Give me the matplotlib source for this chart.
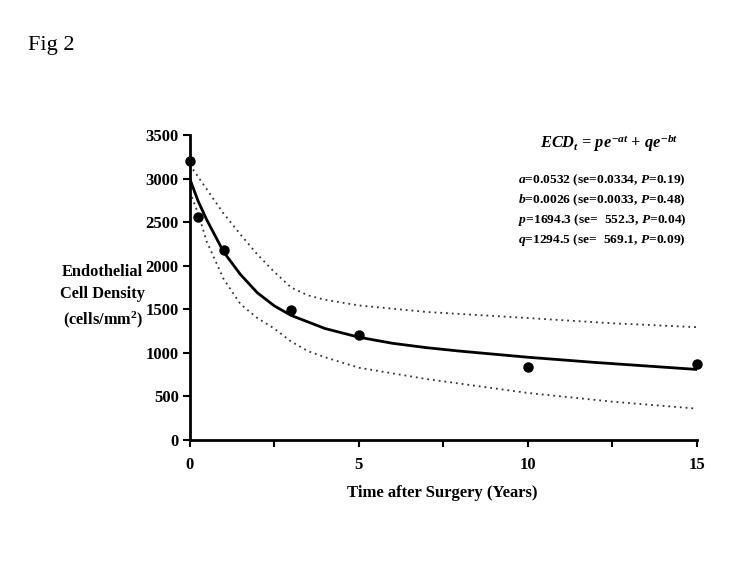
import matplotlib
matplotlib.use('Agg')
import matplotlib.pyplot as plt
from matplotlib.ticker import MultipleLocator

plt.rcParams['font.family'] = ['Liberation Serif', 'DejaVu Serif']
plt.rcParams['font.weight'] = 'bold'
plt.rcParams['mathtext.fontset'] = 'custom'
plt.rcParams['mathtext.rm'] = 'Liberation Serif:bold'
plt.rcParams['mathtext.it'] = 'Liberation Serif:bold:italic'

# observed means
obs_years = [0, 0.25, 1, 3, 5, 10, 15]
obs_ecd = [3200, 2560, 2180, 1490, 1200, 840, 875]

# fitted curve
fit_years = [0, 0.25, 0.5, 1, 1.5, 2, 2.5, 3, 4, 5, 6, 7, 8, 10, 12, 15]
fit_ecd = [3000, 2740, 2530, 2160, 1900, 1690, 1540, 1430, 1280, 1180,
           1110, 1060, 1020, 950, 890, 810]

# confidence bands
ci_years = [0, 0.25, 0.5, 1, 1.5, 2, 2.5, 3, 3.5, 4, 5, 7, 10, 12.5, 15]
ci_upper = [3160, 3020, 2880, 2600, 2360, 2130, 1930, 1750, 1660, 1610,
            1545, 1470, 1400, 1340, 1295]
ci_lower = [2850, 2600, 2280, 1850, 1560, 1400, 1280, 1130, 1020, 950,
            830, 700, 540, 440, 360]

fit_lines = ["$a$=0.0532 (se=0.0334, $P$=0.19)",
             "$b$=0.0026 (se=0.0033, $P$=0.48)",
             "$p$=1694.3 (se=  552.3, $P$=0.04)",
             "$q$=1294.5 (se=  569.1, $P$=0.09)"]

fig = plt.figure(figsize=(7.5, 5.63), dpi=100)
ax = fig.add_axes([0.253, 0.2185, 0.676, 0.5415])

ax.plot(ci_years, ci_upper, color='#333333', lw=1.3, linestyle=(0, (1, 2.2)))
ax.plot(ci_years, ci_lower, color='#333333', lw=1.3, linestyle=(0, (1, 2.2)))
ax.plot(fit_years, fit_ecd, color='black', lw=2)
ax.plot(obs_years, obs_ecd, 'o', color='black', markersize=6.5, clip_on=False)

ax.set_xlim(0, 15)
ax.set_ylim(0, 3500)
ax.xaxis.set_major_locator(MultipleLocator(5))
ax.xaxis.set_minor_locator(MultipleLocator(2.5))
ax.yaxis.set_major_locator(MultipleLocator(500))
for s in ['top', 'right']:
    ax.spines[s].set_visible(False)
for s in ['left', 'bottom']:
    ax.spines[s].set_linewidth(2)
ax.tick_params(which='both', direction='out', length=5, width=1.5, labelsize=12)
ax.tick_params(axis='x', pad=7)
ax.tick_params(axis='y', pad=3)

ax.text(0.828, 0.975, "$ECD_t$ = $pe^{-at}$ + $qe^{-bt}$", transform=ax.transAxes,
        ha='center', va='center', fontsize=11.8)
for i, line in enumerate(fit_lines):
    ax.text(0.647, 0.852 - i * 0.0655, line, transform=ax.transAxes,
            ha='left', va='center', fontsize=9.7)

fig.text(0.137, 0.472, "Endothelial\nCell Density\n(cells/mm$^\\mathrm{2}$)",
         ha='center', va='center', fontsize=11.8, linespacing=1.5)
fig.text(0.59, 0.124, "Time after Surgery (Years)", ha='center', va='center',
         fontsize=12)
fig.text(0.037, 0.92, "Fig 2", ha='left', va='center', fontsize=16,
         fontweight='normal')

fig.savefig('out.png', dpi=100)
